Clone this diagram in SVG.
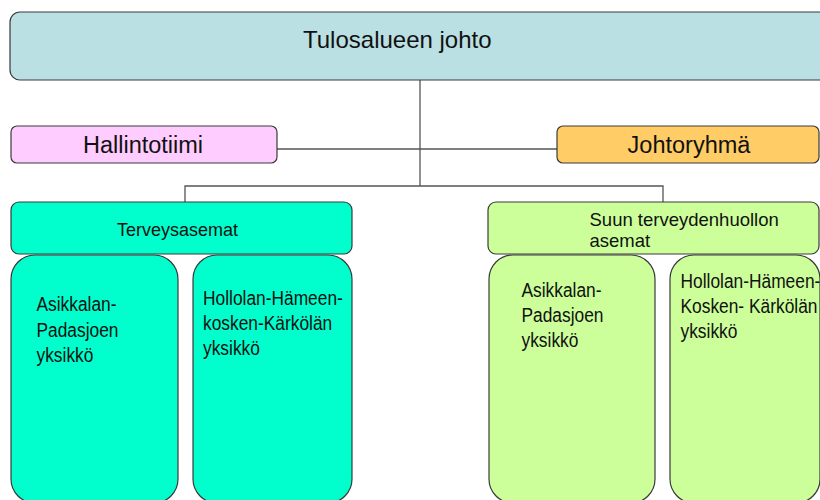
<svg xmlns="http://www.w3.org/2000/svg" width="820" height="500" viewBox="0 0 820 500">
  <style>
    .box { stroke: #3a3a3a; stroke-width: 1.2; }
    .lbl { font-family: "Liberation Sans", Arial, sans-serif; fill: #111; }
    .link { stroke: #555; stroke-width: 1.3; fill: none; }
  </style>
  <rect x="0" y="0" width="820" height="500" fill="#ffffff"/>

  <!-- connectors -->
  <g id="connectors">
    <line class="link" x1="420" y1="80" x2="420" y2="186"/>
    <line class="link" x1="277" y1="149" x2="557" y2="149"/>
    <polyline class="link" points="185,202 185,186 663,186 663,202"/>
  </g>

  <g id="tulosalueen-johto">
    <rect class="box" x="10" y="12" width="830" height="68" rx="10" fill="#BAE0E3"/>
    <text class="lbl" x="303" y="48" font-size="24">Tulosalueen johto</text>
  </g>

  <g id="hallintotiimi">
    <rect class="box" x="11" y="126" width="266" height="37" rx="6" fill="#FFCCFF"/>
    <text class="lbl" x="143" y="153" font-size="23.5" text-anchor="middle">Hallintotiimi</text>
  </g>

  <g id="johtoryhma">
    <rect class="box" x="557" y="126" width="262" height="37" rx="6" fill="#FFCC66"/>
    <text class="lbl" x="689" y="153" font-size="23.5" text-anchor="middle">Johtoryhmä</text>
  </g>

  <g id="terveysasemat">
    <rect class="box" x="11" y="202" width="341" height="52" rx="8" fill="#00FFCC"/>
    <text class="lbl" x="117" y="236" font-size="18">Terveysasemat</text>
  </g>

  <g id="tk-asikkala-padasjoki">
    <rect class="box" x="11" y="255" width="167" height="248" rx="24" fill="#00FFCC"/>
    <g transform="translate(36.5 0) scale(0.827 1)">
      <text class="lbl" x="0" y="311" font-size="21">Asikkalan-</text>
      <text class="lbl" x="0" y="337" font-size="21">Padasjoen</text>
      <text class="lbl" x="0" y="362" font-size="21">yksikkö</text>
    </g>
  </g>

  <g id="tk-hollola-hameenkoski-karkola">
    <rect class="box" x="193" y="255" width="159" height="248" rx="24" fill="#00FFCC"/>
    <g transform="translate(203 0) scale(0.827 1)">
      <text class="lbl" x="0" y="305" font-size="21">Hollolan-Hämeen-</text>
      <text class="lbl" x="0" y="330" font-size="21">kosken-Kärkölän</text>
      <text class="lbl" x="0" y="355" font-size="21">yksikkö</text>
    </g>
  </g>

  <g id="suun-terveydenhuollon-asemat">
    <rect class="box" x="488" y="202" width="331" height="52" rx="8" fill="#CCFF99"/>
    <text class="lbl" x="589.5" y="226" font-size="18.5">Suun terveydenhuollon</text>
    <text class="lbl" x="589.5" y="246.5" font-size="18.5">asemat</text>
  </g>

  <g id="suun-asikkala-padasjoki">
    <rect class="box" x="489" y="255" width="166" height="248" rx="24" fill="#CCFF99"/>
    <g transform="translate(521.5 0) scale(0.827 1)">
      <text class="lbl" x="0" y="297" font-size="21">Asikkalan-</text>
      <text class="lbl" x="0" y="322" font-size="21">Padasjoen</text>
      <text class="lbl" x="0" y="347" font-size="21">yksikkö</text>
    </g>
  </g>

  <g id="suun-hollola-hameenkoski-karkola">
    <rect class="box" x="670" y="255" width="150" height="248" rx="24" fill="#CCFF99"/>
    <g transform="translate(680.5 0) scale(0.827 1)">
      <text class="lbl" x="0" y="288" font-size="21">Hollolan-Hämeen-</text>
      <text class="lbl" x="0" y="313" font-size="21">Kosken- Kärkölän</text>
      <text class="lbl" x="0" y="338" font-size="21">yksikkö</text>
    </g>
  </g>
</svg>
